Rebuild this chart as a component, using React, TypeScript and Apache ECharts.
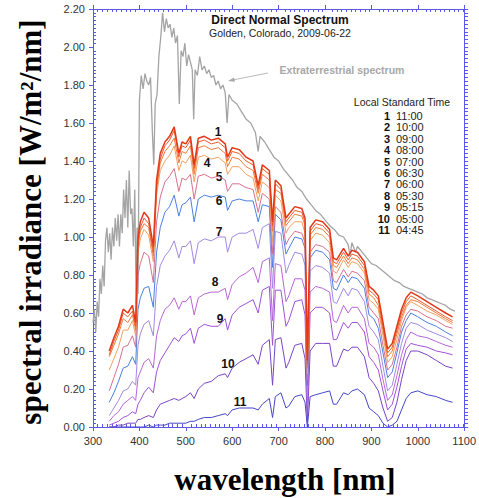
import React, { useEffect, useRef } from "react";
import * as echarts from "echarts";

// wavelength grid (nm) shared by the 11 measured spectra
const wavelengths = [
  335, 345, 355, 365, 375, 385, 392, 397, 402, 410,
  420, 430, 437, 445, 455, 465, 475, 485, 492, 500,
  510, 518, 527, 540, 555, 570, 585, 590, 600, 615,
  630, 645, 656, 665, 680, 687, 693, 705, 716, 722,
  735, 750, 757, 762, 768, 780, 795, 810, 818, 825,
  840, 850, 858, 870, 885, 895, 905, 915, 925, 935,
  945, 955, 965, 975, 985, 1000, 1020, 1040, 1060, 1075,
];

const s1 = [
  0.40, 0.47, 0.53, 0.62, 0.60, 0.64, 0.55, 1.00, 1.08, 1.13,
  1.10, 0.95, 1.30, 1.44, 1.50, 1.53, 1.58, 1.44, 1.50, 1.49,
  1.53, 1.38, 1.52, 1.53, 1.51, 1.52, 1.49, 1.42, 1.47, 1.46,
  1.42, 1.40, 1.27, 1.38, 1.35, 1.08, 1.30, 1.27, 1.10, 1.12,
  1.16, 1.15, 1.10, 0.35, 1.05, 1.09, 1.08, 1.04, 0.89, 0.88,
  0.94, 0.90, 0.93, 0.92, 0.87, 0.74, 0.72, 0.69, 0.55, 0.41,
  0.44, 0.53, 0.62, 0.68, 0.71, 0.69, 0.66, 0.63, 0.60, 0.58,
];
const s2 = [
  0.38, 0.45, 0.51, 0.60, 0.58, 0.61, 0.53, 0.97, 1.05, 1.10,
  1.07, 0.92, 1.27, 1.41, 1.48, 1.51, 1.56, 1.42, 1.48, 1.47,
  1.51, 1.36, 1.50, 1.51, 1.49, 1.50, 1.47, 1.40, 1.45, 1.44,
  1.40, 1.38, 1.25, 1.36, 1.33, 1.06, 1.28, 1.25, 1.08, 1.10,
  1.14, 1.13, 1.08, 0.33, 1.03, 1.07, 1.06, 1.02, 0.87, 0.86,
  0.92, 0.88, 0.91, 0.90, 0.85, 0.72, 0.70, 0.67, 0.53, 0.39,
  0.42, 0.51, 0.60, 0.66, 0.69, 0.67, 0.64, 0.61, 0.58, 0.56,
];
const s3 = [
  0.37, 0.43, 0.49, 0.57, 0.55, 0.59, 0.51, 0.95, 1.03, 1.07,
  1.05, 0.90, 1.25, 1.39, 1.45, 1.48, 1.52, 1.39, 1.45, 1.44,
  1.48, 1.33, 1.47, 1.48, 1.46, 1.47, 1.44, 1.37, 1.42, 1.41,
  1.37, 1.35, 1.23, 1.33, 1.30, 1.03, 1.25, 1.23, 1.06, 1.08,
  1.12, 1.11, 1.06, 0.31, 1.01, 1.05, 1.04, 1.00, 0.85, 0.84,
  0.90, 0.86, 0.89, 0.88, 0.83, 0.70, 0.68, 0.64, 0.51, 0.37,
  0.40, 0.49, 0.58, 0.64, 0.67, 0.66, 0.63, 0.60, 0.57, 0.55,
];
const s4 = [
  0.30, 0.36, 0.42, 0.51, 0.51, 0.56, 0.48, 0.92, 0.99, 1.04,
  1.01, 0.87, 1.22, 1.35, 1.40, 1.43, 1.48, 1.35, 1.40, 1.39,
  1.43, 1.29, 1.42, 1.43, 1.41, 1.42, 1.39, 1.33, 1.37, 1.37,
  1.33, 1.31, 1.19, 1.29, 1.26, 0.97, 1.22, 1.19, 1.02, 1.05,
  1.08, 1.08, 1.02, 0.28, 0.98, 1.02, 1.01, 0.97, 0.82, 0.81,
  0.88, 0.84, 0.87, 0.86, 0.81, 0.67, 0.65, 0.62, 0.48, 0.34,
  0.37, 0.46, 0.56, 0.63, 0.66, 0.64, 0.61, 0.59, 0.56, 0.54,
];
const s5 = [
  0.19, 0.26, 0.33, 0.42, 0.43, 0.48, 0.42, 0.80, 0.86, 0.92,
  0.90, 0.76, 1.08, 1.21, 1.29, 1.32, 1.36, 1.24, 1.31, 1.30,
  1.33, 1.20, 1.32, 1.33, 1.31, 1.32, 1.30, 1.24, 1.28, 1.28,
  1.26, 1.25, 1.13, 1.23, 1.20, 0.91, 1.16, 1.13, 0.96, 0.99,
  1.03, 1.02, 0.97, 0.25, 0.92, 0.96, 0.95, 0.92, 0.77, 0.76,
  0.83, 0.79, 0.82, 0.81, 0.77, 0.63, 0.60, 0.57, 0.43, 0.30,
  0.33, 0.42, 0.53, 0.59, 0.62, 0.61, 0.58, 0.56, 0.53, 0.52,
];
const s6 = [
  0.13, 0.18, 0.24, 0.31, 0.32, 0.37, 0.33, 0.62, 0.68, 0.73,
  0.74, 0.63, 0.92, 1.05, 1.13, 1.16, 1.22, 1.11, 1.17, 1.18,
  1.21, 1.08, 1.20, 1.22, 1.21, 1.22, 1.21, 1.14, 1.19, 1.20,
  1.19, 1.19, 1.08, 1.17, 1.16, 0.84, 1.12, 1.09, 0.91, 0.94,
  1.00, 0.99, 0.94, 0.22, 0.89, 0.93, 0.92, 0.88, 0.73, 0.72,
  0.80, 0.76, 0.79, 0.78, 0.73, 0.59, 0.57, 0.52, 0.39, 0.26,
  0.29, 0.39, 0.50, 0.56, 0.60, 0.58, 0.55, 0.53, 0.50, 0.48,
];
const s7 = [
  0.06, 0.10, 0.14, 0.19, 0.20, 0.24, 0.22, 0.43, 0.49, 0.54,
  0.56, 0.48, 0.74, 0.85, 0.90, 0.93, 0.98, 0.89, 0.95, 0.95,
  0.98, 0.86, 0.97, 0.99, 0.98, 1.00, 1.00, 0.92, 1.00, 1.02,
  1.02, 1.04, 0.94, 1.05, 1.07, 0.73, 1.03, 1.02, 0.81, 0.85,
  0.92, 0.91, 0.85, 0.16, 0.82, 0.85, 0.84, 0.81, 0.66, 0.65,
  0.73, 0.69, 0.73, 0.72, 0.66, 0.53, 0.50, 0.46, 0.32, 0.19,
  0.22, 0.33, 0.44, 0.52, 0.55, 0.54, 0.51, 0.49, 0.47, 0.45,
];
const s8 = [
  0.03, 0.06, 0.08, 0.12, 0.14, 0.16, 0.14, 0.26, 0.29, 0.34,
  0.36, 0.31, 0.48, 0.56, 0.62, 0.64, 0.68, 0.62, 0.66, 0.66,
  0.69, 0.59, 0.68, 0.70, 0.71, 0.71, 0.73, 0.67, 0.75, 0.79,
  0.81, 0.84, 0.76, 0.87, 0.89, 0.56, 0.86, 0.85, 0.66, 0.69,
  0.78, 0.78, 0.72, 0.11, 0.71, 0.74, 0.73, 0.71, 0.56, 0.55,
  0.64, 0.60, 0.63, 0.63, 0.57, 0.44, 0.42, 0.38, 0.25, 0.14,
  0.17, 0.27, 0.38, 0.46, 0.50, 0.48, 0.47, 0.45, 0.43, 0.42,
];
const s9 = [
  0.01, 0.02, 0.03, 0.05, 0.06, 0.08, 0.07, 0.12, 0.14, 0.18,
  0.21, 0.18, 0.29, 0.35, 0.39, 0.43, 0.47, 0.45, 0.48, 0.49,
  0.52, 0.44, 0.52, 0.54, 0.53, 0.53, 0.57, 0.51, 0.59, 0.63,
  0.65, 0.67, 0.60, 0.72, 0.74, 0.43, 0.72, 0.72, 0.53, 0.56,
  0.66, 0.67, 0.59, 0.07, 0.60, 0.63, 0.63, 0.60, 0.46, 0.46,
  0.55, 0.52, 0.55, 0.55, 0.50, 0.37, 0.34, 0.30, 0.19, 0.09,
  0.12, 0.21, 0.32, 0.41, 0.44, 0.43, 0.42, 0.40, 0.39, 0.38,
];
const s10 = [
  0.00, 0.00, 0.01, 0.01, 0.02, 0.02, 0.02, 0.04, 0.04, 0.05,
  0.06, 0.05, 0.09, 0.12, 0.13, 0.14, 0.15, 0.14, 0.15, 0.16,
  0.18, 0.15, 0.20, 0.23, 0.24, 0.27, 0.28, 0.26, 0.31, 0.34,
  0.36, 0.38, 0.33, 0.43, 0.46, 0.22, 0.46, 0.47, 0.31, 0.34,
  0.43, 0.44, 0.36, 0.02, 0.40, 0.44, 0.44, 0.44, 0.32, 0.32,
  0.41, 0.40, 0.42, 0.42, 0.37, 0.26, 0.23, 0.19, 0.10, 0.03,
  0.05, 0.13, 0.25, 0.35, 0.40, 0.40, 0.38, 0.35, 0.32, 0.31,
];
const s11 = [
  0.00, 0.00, 0.00, 0.00, 0.00, 0.00, 0.00, 0.00, 0.00, 0.00,
  0.01, 0.00, 0.01, 0.01, 0.01, 0.02, 0.02, 0.02, 0.02, 0.02,
  0.03, 0.03, 0.04, 0.05, 0.05, 0.06, 0.07, 0.06, 0.09, 0.10,
  0.10, 0.10, 0.09, 0.12, 0.15, 0.05, 0.16, 0.18, 0.10, 0.11,
  0.16, 0.17, 0.13, 0.00, 0.16, 0.17, 0.18, 0.19, 0.12, 0.12,
  0.18, 0.17, 0.19, 0.20, 0.17, 0.10, 0.08, 0.06, 0.02, 0.00,
  0.01, 0.03, 0.09, 0.15, 0.18, 0.19, 0.17, 0.16, 0.14, 0.13,
];

// extraterrestrial spectrum
const etWavelengths = [
  300, 303, 306, 309, 312, 315, 318, 321, 324, 327, 330, 333, 336, 339, 342, 345, 348,
  351, 354, 357, 360, 363, 366, 369, 372, 375, 378, 381, 384, 387, 390, 393, 395, 397,
  400, 404, 408, 412, 416, 420, 424, 428, 431, 434, 438, 442, 446, 450, 454, 458, 462,
  466, 470, 474, 478, 482, 486, 490, 494, 498, 502, 506, 510, 514, 517, 520, 525, 530,
  535, 540, 545, 550, 555, 560, 565, 570, 575, 580, 585, 589, 593, 600, 610, 620, 630,
  640, 650, 656, 660, 670, 680, 690, 700, 710, 720, 730, 740, 750, 760, 770, 780, 790,
  800, 810, 820, 830, 840, 850, 854, 858, 866, 870, 880, 890, 900, 910, 920, 930, 940,
  950, 960, 970, 980, 990, 1000, 1010, 1020, 1030, 1040, 1050, 1060, 1070, 1080,
];
const etValues = [
  0.55, 0.62, 0.50, 0.66, 0.58, 0.78, 0.70, 0.85, 0.74, 0.98, 1.05, 0.92, 1.02, 0.88, 1.05, 0.95, 1.10,
  0.98, 1.12, 0.95, 1.12, 1.02, 1.25, 1.10, 1.30, 1.05, 1.35, 1.12, 1.15, 0.95, 1.25, 0.65, 1.05, 0.70,
  1.72, 1.85, 1.78, 1.86, 1.82, 1.80, 1.84, 1.55, 1.38, 1.70, 1.75, 1.95, 2.05, 2.18, 2.08, 2.15, 2.10,
  2.12, 2.05, 2.10, 2.02, 2.06, 1.70, 1.98, 1.95, 2.02, 1.90, 1.96, 1.92, 1.88, 1.62, 1.88, 1.85, 1.95,
  1.88, 1.90, 1.86, 1.88, 1.84, 1.85, 1.80, 1.82, 1.78, 1.80, 1.76, 1.60, 1.75, 1.72, 1.70, 1.66, 1.62,
  1.60, 1.55, 1.45, 1.53, 1.50, 1.46, 1.42, 1.40, 1.36, 1.33, 1.30, 1.26, 1.24, 1.20, 1.17, 1.14, 1.12,
  1.09, 1.06, 1.04, 1.01, 1.00, 0.96, 0.90, 0.97, 0.92, 0.95, 0.92, 0.89, 0.86, 0.85, 0.83, 0.81, 0.79,
  0.77, 0.76, 0.74, 0.73, 0.72, 0.71, 0.70, 0.68, 0.67, 0.66, 0.65, 0.64, 0.62, 0.61,
];

const seriesValues = [s1, s2, s3, s4, s5, s6, s7, s8, s9, s10, s11];
const curveNumbers = ["1", "2", "3", "4", "5", "6", "7", "8", "9", "10", "11"];
const timeLabels = ["11:00", "10:00", "09:00", "08:00", "07:00", "06:30", "06:00", "05:30", "05:15", "05:00", "04:45"];
const labelledCurves = ["1", "4", "5", "6", "7", "8", "9", "10", "11"];

// styles
const COLORS = ["#e2381a", "#ec5a2a", "#f07a3a", "#f2a060", "#d8708e", "#4a80e2", "#a08ae2", "#b866d8", "#a052d6", "#7a44c8", "#4646c8"];
const AXIS = "#5a5ae6";
const SANS = "Liberation Sans, Arial, Helvetica, sans-serif";
const SERIF = "Liberation Serif, Times New Roman, Times, serif";
const labelPos: Record<string, [number, number]> = {
  "1": [218, 132], "4": [207, 163], "5": [219, 177], "6": [219, 201], "7": [219, 232],
  "8": [215, 282], "9": [220, 319], "10": [228, 364], "11": [240, 402],
};

function txt(text: string, x: number, y: number, font: string, fill: string, align = "center", extra: any = {}) {
  return {
    type: "text",
    x, y,
    silent: true,
    ...extra,
    style: { text, font, fill, align, textAlign: align, verticalAlign: "middle", textVerticalAlign: "middle" },
  };
}

export default function App() {
  const ref = useRef<HTMLDivElement>(null);
  useEffect(() => {
    const chart = echarts.init(ref.current!, undefined, { renderer: "svg" });
    const gridBox = { left: 93, right: 11, top: 9, bottom: 71 };
    const majorX = (pos: string, labels: boolean) => ({
      type: "value", gridIndex: 0, position: pos, min: 300, max: 1100, interval: 100,
      axisLine: { show: true, onZero: false, lineStyle: { color: AXIS, width: 1 } },
      axisTick: { show: true, inside: false, length: 4, lineStyle: { color: AXIS } },
      axisLabel: { show: labels, color: "#333", fontSize: 11, fontFamily: SANS, margin: 8, formatter: (v: number) => String(v) },
      splitLine: { show: false },
    });
    const minorX = (pos: string) => ({
      type: "value", gridIndex: 1, position: pos, min: 300, max: 1100, interval: 100,
      axisLine: { show: false, onZero: false },
      axisTick: { show: false, inside: true },
      minorTick: { show: true, splitNumber: 10, length: 3, lineStyle: { color: AXIS } },
      axisLabel: { show: false }, splitLine: { show: false },
    });
    const majorY = (pos: string, labels: boolean) => ({
      type: "value", gridIndex: 0, position: pos, min: 0, max: 2.2, interval: 0.2,
      axisLine: { show: true, onZero: false, lineStyle: { color: AXIS, width: 1 } },
      axisTick: { show: true, inside: false, length: 4, lineStyle: { color: AXIS } },
      axisLabel: { show: labels, color: "#333", fontSize: 11, fontFamily: SANS, margin: 8, formatter: (v: number) => v.toFixed(2) },
      splitLine: { show: false },
    });
    const minorY = (pos: string) => ({
      type: "value", gridIndex: 1, position: pos, min: 0, max: 2.2, interval: 0.2,
      axisLine: { show: false, onZero: false },
      axisTick: { show: false, inside: true },
      minorTick: { show: true, splitNumber: 10, length: 3, lineStyle: { color: AXIS } },
      axisLabel: { show: false }, splitLine: { show: false },
    });

    const series: any[] = [
      {
        type: "line", name: "Extraterrestrial", xAxisIndex: 0, yAxisIndex: 0,
        data: etWavelengths.map((w, i) => [w, etValues[i]]),
        showSymbol: false, lineStyle: { color: "#a4a4a4", width: 1.3 }, z: 1,
      },
    ];
    for (let k = seriesValues.length - 1; k >= 0; k--) {
      series.push({
        type: "line", name: curveNumbers[k], xAxisIndex: 0, yAxisIndex: 0,
        data: wavelengths.map((w, i) => [w, seriesValues[k][i]]),
        showSymbol: false,
        lineStyle: { color: COLORS[k], width: k === 0 ? 1.5 : 1 },
        z: 2 + (seriesValues.length - k),
      });
    }

    const graphics: any[] = [
      txt("Direct Normal Spectrum", 280, 20, `bold 12px ${SANS}`, "#111"),
      txt("Golden, Colorado, 2009-06-22", 280, 33, `10.5px ${SANS}`, "#222"),
      txt("Extraterrestrial spectrum", 342, 70, `bold 10.5px ${SANS}`, "#a8a8a8"),
      { type: "line", silent: true, shape: { x1: 268, y1: 73, x2: 230, y2: 80.5 }, style: { stroke: "#a8a8a8", lineWidth: 0.8 } },
      { type: "polygon", silent: true, shape: { points: [[228, 81], [234, 77.5], [235, 81.8]] }, style: { fill: "#a8a8a8" } },
      txt("Local Standard Time", 402, 102, `10.5px ${SANS}`, "#222"),
      txt("wavelength [nm]", 285, 479, `bold 31px ${SERIF}`, "#000"),
      txt("spectral irradiance [W/m²/nm]", 30, 222, `bold 31px ${SERIF}`, "#000", "center", { rotation: Math.PI / 2 }),
    ];
    curveNumbers.forEach((n, i) => {
      const y = 116 + i * 11.4;
      graphics.push(txt(n, 390, y, `bold 11px ${SANS}`, "#111", "right"));
      graphics.push(txt(timeLabels[i], 396, y, `11px ${SANS}`, "#222", "left"));
    });
    labelledCurves.forEach((n) => {
      const [x, y] = labelPos[n];
      graphics.push(txt(n, x, y, `bold 12px ${SANS}`, "#111"));
    });

    chart.setOption({
      animation: false,
      backgroundColor: "#fff",
      grid: [gridBox, gridBox],
      xAxis: [majorX("bottom", true), majorX("top", false), minorX("bottom"), minorX("top")],
      yAxis: [majorY("left", true), majorY("right", false), minorY("left"), minorY("right")],
      series,
      graphic: graphics,
    });
    return () => chart.dispose();
  }, []);
  return <div ref={ref} style={{ position: "absolute", left: 0, top: 0, width: 479, height: 498 }} />;
}
